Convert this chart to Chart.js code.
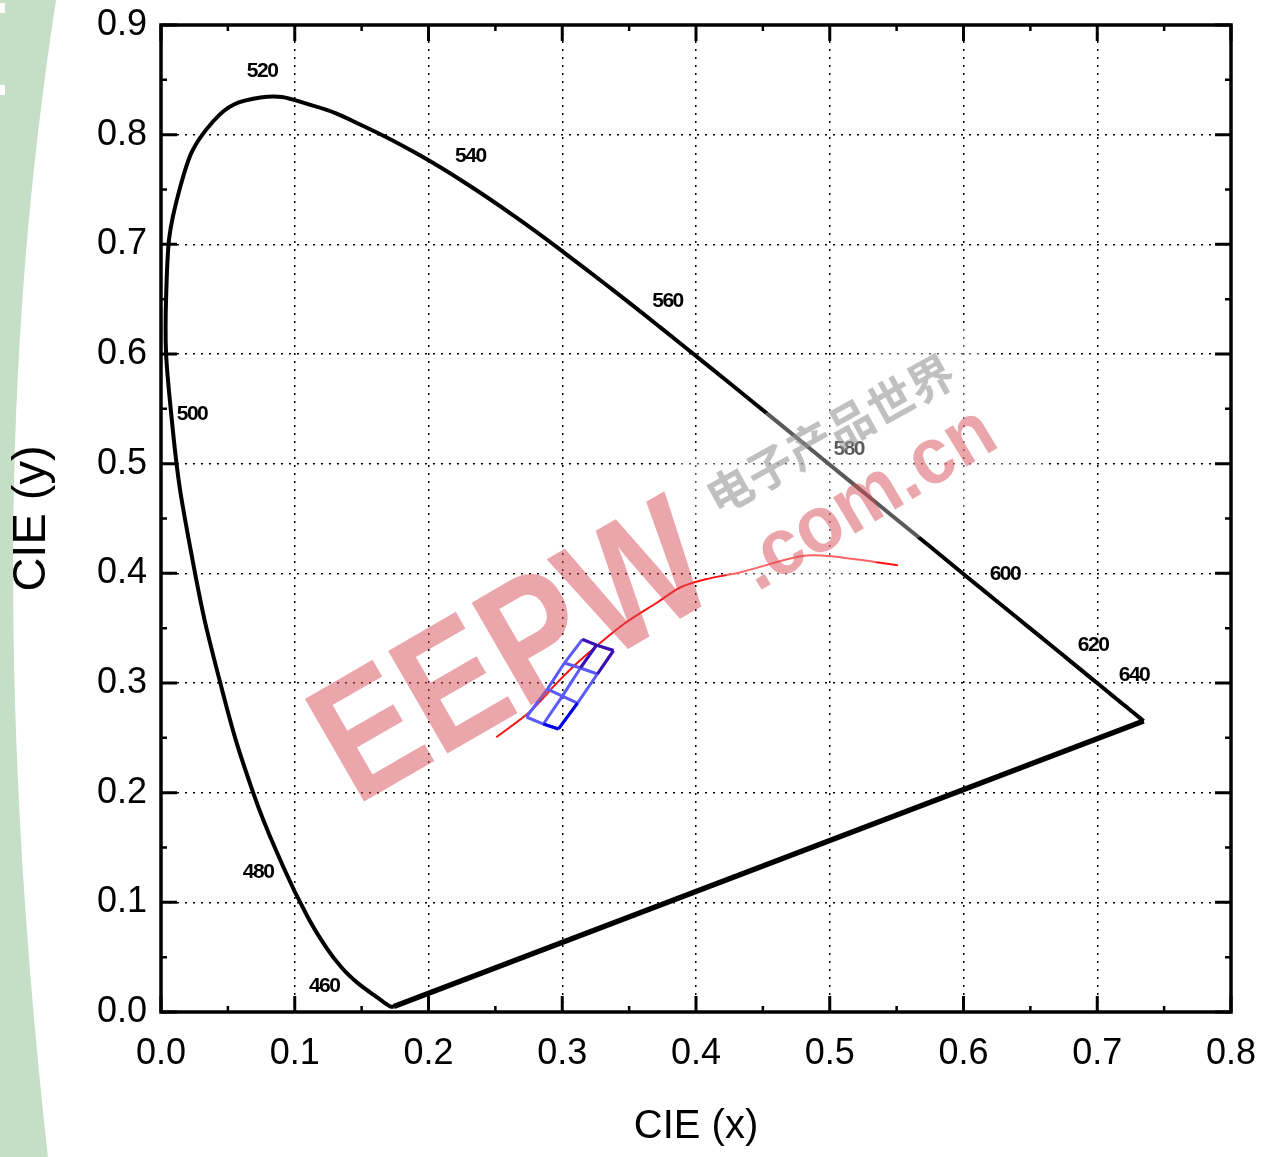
<!DOCTYPE html>
<html>
<head>
<meta charset="utf-8">
<script src="https://cdn.jsdelivr.net/npm/chart.js"></script>
<style>
  html, body { margin: 0; padding: 0; background: #fff; }
</style>
</head>
<body>
<canvas id="js--chart--cie" width="1269" height="1157"></canvas>
<script>
// spectral locus, 380 .. 700 nm every 5 nm
const locusX = [0.1741, 0.1740, 0.1738, 0.1736, 0.1733, 0.1730, 0.1726, 0.1721, 0.1714, 0.1703,
    0.1689, 0.1669, 0.1644, 0.1611, 0.1566, 0.1510, 0.1440, 0.1355, 0.1241, 0.1096,
    0.0913, 0.0687, 0.0454, 0.0235, 0.0082, 0.0039, 0.0139, 0.0389, 0.0743, 0.1142,
    0.1547, 0.1929, 0.2296, 0.2658, 0.3016, 0.3373, 0.3731, 0.4087, 0.4441, 0.4788,
    0.5125, 0.5448, 0.5752, 0.6029, 0.6270, 0.6482, 0.6658, 0.6801, 0.6915, 0.7006,
    0.7079, 0.7140, 0.7190, 0.7230, 0.7260, 0.7283, 0.7300, 0.7311, 0.7320, 0.7327,
    0.7334, 0.7340, 0.7344, 0.7346, 0.7347];
const locusY = [0.0050, 0.0050, 0.0049, 0.0049, 0.0048, 0.0048, 0.0048, 0.0048, 0.0051, 0.0058,
    0.0069, 0.0086, 0.0109, 0.0138, 0.0177, 0.0227, 0.0297, 0.0399, 0.0578, 0.0868,
    0.1327, 0.2007, 0.2950, 0.4127, 0.5384, 0.6548, 0.7502, 0.8120, 0.8338, 0.8262,
    0.8059, 0.7816, 0.7543, 0.7243, 0.6923, 0.6589, 0.6245, 0.5896, 0.5547, 0.5202,
    0.4866, 0.4544, 0.4242, 0.3965, 0.3725, 0.3514, 0.3340, 0.3197, 0.3083, 0.2993,
    0.2920, 0.2859, 0.2809, 0.2770, 0.2740, 0.2717, 0.2700, 0.2689, 0.2680, 0.2673,
    0.2666, 0.2660, 0.2656, 0.2654, 0.2653];

// wavelength labels
const wavelengthLabels = ['520', '540', '560', '580', '600', '620', '640', '500', '480', '460'];
const labelX = [0.0756, 0.2313, 0.3787, 0.5142, 0.6310, 0.6969, 0.7275, 0.0232, 0.0726, 0.1220];
const labelY = [0.8580, 0.7806, 0.6483, 0.5132, 0.3992, 0.3344, 0.3070, 0.5451, 0.1273, 0.0233];

// red curve (black body line)
const planckX = [0.2507, 0.2762, 0.2964, 0.3159, 0.3458, 0.3713, 0.3885, 0.4072, 0.4334, 0.4783, 0.5007, 0.5509];
const planckY = [0.2505, 0.2742, 0.3006, 0.3234, 0.3536, 0.3736, 0.3873, 0.3946, 0.4010, 0.4156, 0.4156, 0.4074];

// blue bin grid, 4 rows x 3 corner points
const binRowsX = [
    [0.3151, 0.3256, 0.3383],
    [0.3016, 0.3136, 0.3263],
    [0.2889, 0.3001, 0.3114],
    [0.2732, 0.2859, 0.2972]
];
const binRowsY = [
    [0.3397, 0.3346, 0.3296],
    [0.3182, 0.3137, 0.3082],
    [0.2945, 0.2881, 0.2817],
    [0.2690, 0.2626, 0.2581]
];

const xTicks = [0, 0.1, 0.2, 0.3, 0.4, 0.5, 0.6, 0.7, 0.8];
const yTicks = [0, 0.1, 0.2, 0.3, 0.4, 0.5, 0.6, 0.7, 0.8, 0.9];

function pts(xs, ys) {
    return xs.map(function (v, i) { return { x: v, y: ys[i] }; });
}

function line(data, color, width, tension) {
    return {
        data: data,
        showLine: true,
        borderColor: color,
        borderWidth: width,
        pointRadius: 0,
        fill: false,
        tension: tension || 0
    };
}

// grid pieces of the bins
const binLight = '#5a5aff';
const binDark = '#3d0fb0';
const binBlue = '#0000ee';
const datasets = [];

// overlays first so they end up on top
datasets.push(line(pts(binRowsX[0], binRowsY[0]), binDark, 3));
datasets.push(line([{ x: binRowsX[0][2], y: binRowsY[0][2] }, { x: binRowsX[1][2], y: binRowsY[1][2] }], binDark, 3));
datasets.push(line([{ x: binRowsX[0][1], y: binRowsY[0][1] }, { x: binRowsX[1][1], y: binRowsY[1][1] }], binDark, 3));
datasets.push(line(pts(binRowsX[3].slice(1), binRowsY[3].slice(1)), binBlue, 3));
datasets.push(line([{ x: binRowsX[2][2], y: binRowsY[2][2] }, { x: binRowsX[3][2], y: binRowsY[3][2] }], binBlue, 3));
for (let r = 0; r < 4; r++) {
    datasets.push(line(pts(binRowsX[r], binRowsY[r]), binLight, 3));
}
for (let c = 0; c < 3; c++) {
    datasets.push(line(pts(binRowsX.map(function (row) { return row[c]; }), binRowsY.map(function (row) { return row[c]; })), binLight, 3));
}
datasets.push(line(pts(planckX, planckY), '#ff1010', 2, 0.3));
datasets.push(line(pts(locusX, locusY), '#000', 4, 0.45));
// purple line closing the locus
datasets.push(line([
    { x: locusX[locusX.length - 1], y: locusY[locusY.length - 1] },
    { x: locusX[0], y: locusY[0] }
], '#000', 5.5));

// green strip on the page behind the chart
const pageBackground = {
    id: 'pageBackground',
    beforeDraw(chart) {
        const ctx = chart.ctx;
        ctx.save();
        ctx.fillStyle = '#fff';
        ctx.fillRect(0, 0, chart.width, chart.height);
        ctx.fillStyle = '#c5dfc6';
        ctx.beginPath();
        ctx.moveTo(0, 0);
        ctx.lineTo(56, 0);
        ctx.bezierCurveTo(10, 300, -8, 650, 48, chart.height);
        ctx.lineTo(0, chart.height);
        ctx.closePath();
        ctx.fill();
        ctx.fillStyle = '#fff';
        ctx.fillRect(0, 3, 5, 10);
        ctx.fillRect(0, 85, 5, 10);
        ctx.restore();
    }
};

// wavelength numbers along the locus
const wavelengthText = {
    id: 'wavelengthText',
    afterDatasetsDraw(chart) {
        const { ctx, scales: { x, y } } = chart;
        ctx.save();
        ctx.font = 'bold 21px "Liberation Sans", Arial, sans-serif';
        ctx.letterSpacing = '-1.5px';
        ctx.fillStyle = '#000';
        ctx.textAlign = 'center';
        ctx.textBaseline = 'middle';
        wavelengthLabels.forEach(function (t, i) {
            ctx.fillText(t, x.getPixelForValue(labelX[i]), y.getPixelForValue(labelY[i]));
        });
        ctx.restore();
    }
};

// EEPW watermark lying over the plot
const watermark = {
    id: 'watermark',
    afterDatasetsDraw(chart) {
        const ctx = chart.ctx;
        ctx.save();
        // whitish band
        ctx.save();
        ctx.translate(855, 468);
        ctx.rotate(-30 * Math.PI / 180);
        ctx.fillStyle = 'rgba(255,255,255,0.35)';
        ctx.fillRect(-165, -92, 330, 184);
        ctx.restore();

        ctx.save();
        ctx.translate(512, 652);
        ctx.rotate(-30 * Math.PI / 180);
        ctx.fillStyle = 'rgba(214,78,86,0.5)';
        ctx.font = 'bold 172px "Liberation Sans", Arial, sans-serif';
        ctx.textAlign = 'center';
        ctx.textBaseline = 'middle';
        ctx.fillText('EEPW', 0, 8, 425);
        ctx.restore();

        ctx.save();
        ctx.translate(830, 434);
        ctx.rotate(-29 * Math.PI / 180);
        ctx.fillStyle = 'rgba(150,150,150,0.6)';
        ctx.font = 'bold 46px "Noto Sans CJK SC", sans-serif';
        ctx.textAlign = 'center';
        ctx.textBaseline = 'middle';
        ctx.fillText('电子产品世界', 0, 0, 285);
        ctx.restore();

        ctx.save();
        ctx.translate(868, 500);
        ctx.rotate(-31 * Math.PI / 180);
        ctx.fillStyle = 'rgba(214,78,86,0.5)';
        ctx.font = 'bold 80px "Liberation Sans", Arial, sans-serif';
        ctx.textAlign = 'center';
        ctx.textBaseline = 'middle';
        ctx.fillText('.com.cn', 0, 0, 285);
        ctx.restore();
        ctx.restore();
    }
};

// box with inward major and minor ticks on all four sides
const frameAndTicks = {
    id: 'frameAndTicks',
    afterDraw(chart) {
        const { ctx, chartArea: a, scales: { x, y } } = chart;
        ctx.save();
        ctx.strokeStyle = '#000';
        for (let i = 0; i <= 16; i++) {
            const px = x.getPixelForValue(i * 0.05);
            const len = i % 2 === 0 ? 16 : 6;
            ctx.lineWidth = i % 2 === 0 ? 3 : 2.5;
            ctx.beginPath();
            ctx.moveTo(px, a.bottom);
            ctx.lineTo(px, a.bottom - len);
            ctx.moveTo(px, a.top);
            ctx.lineTo(px, a.top + len);
            ctx.stroke();
        }
        for (let i = 0; i <= 18; i++) {
            const py = y.getPixelForValue(i * 0.05);
            const len = i % 2 === 0 ? 16 : 6;
            ctx.lineWidth = i % 2 === 0 ? 3 : 2.5;
            ctx.beginPath();
            ctx.moveTo(a.left, py);
            ctx.lineTo(a.left + len, py);
            ctx.moveTo(a.right, py);
            ctx.lineTo(a.right - len, py);
            ctx.stroke();
        }
        ctx.lineWidth = 3.5;
        ctx.strokeRect(a.left, a.top, a.right - a.left, a.bottom - a.top);
        ctx.restore();
    }
};

const tickFont = { family: '"Liberation Sans", Arial, sans-serif', size: 36 };

const config = {
    type: 'scatter',
    data: { datasets: datasets },
    options: {
        responsive: false,
        animation: false,
        devicePixelRatio: 1,
        layout: { padding: { left: 0, top: 25, right: 38, bottom: 0 } },
        plugins: {
            legend: { display: false },
            tooltip: { enabled: false }
        },
        scales: {
            x: {
                type: 'linear',
                min: 0,
                max: 0.8,
                afterFit: function (s) {
                    s.height = 145;
                    s.paddingLeft = 0;
                    s.paddingRight = 0;
                },
                afterBuildTicks: function (s) { s.ticks = xTicks.map(function (v) { return { value: v }; }); },
                ticks: {
                    color: '#000',
                    font: tickFont,
                    padding: 20,
                    maxRotation: 0,
                    autoSkip: false,
                    callback: function (v) { return v.toFixed(1); }
                },
                grid: { color: '#000', lineWidth: 1.5, drawTicks: false },
                border: { display: false, dash: [2, 6] },
                title: {
                    display: true,
                    text: 'CIE (x)',
                    color: '#000',
                    font: { family: '"Liberation Sans", Arial, sans-serif', size: 40 },
                    padding: { top: 0, bottom: 6 }
                }
            },
            y: {
                type: 'linear',
                min: 0,
                max: 0.9,
                afterFit: function (s) {
                    s.width = 161;
                    s.paddingTop = 0;
                    s.paddingBottom = 0;
                },
                afterBuildTicks: function (s) { s.ticks = yTicks.map(function (v) { return { value: v }; }); },
                ticks: {
                    color: '#000',
                    font: tickFont,
                    padding: 14,
                    autoSkip: false,
                    callback: function (v) { return v.toFixed(1); }
                },
                grid: { color: '#000', lineWidth: 1.5, drawTicks: false },
                border: { display: false, dash: [2, 6] },
                title: {
                    display: true,
                    text: 'CIE (y)',
                    color: '#000',
                    font: { family: '"Liberation Sans", Arial, sans-serif', size: 47 },
                    padding: { top: 4, bottom: 0 }
                }
            }
        }
    },
    plugins: [pageBackground, wavelengthText, watermark, frameAndTicks]
};

const myChart = new Chart(document.getElementById('js--chart--cie'), config);
</script>
</body>
</html>
